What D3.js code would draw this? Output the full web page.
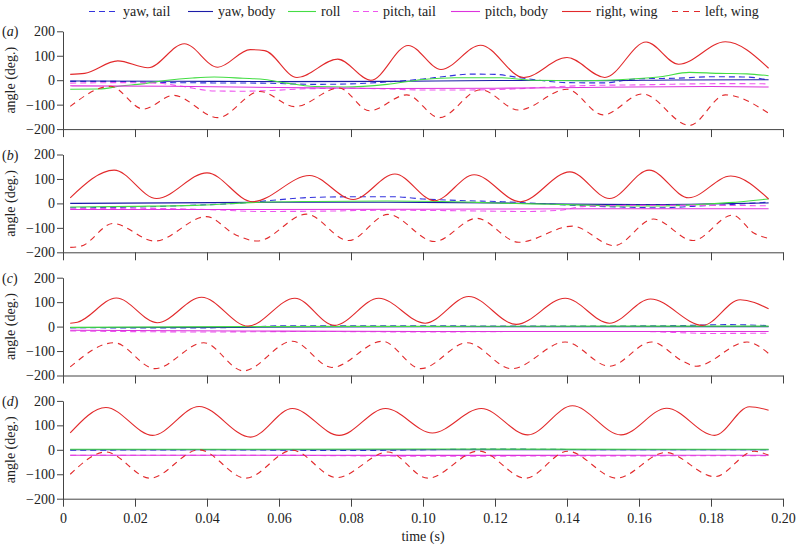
<!DOCTYPE html>
<html><head><meta charset="utf-8">
<script src="https://cdn.jsdelivr.net/npm/d3@7"></script>
<style>
html,body{margin:0;padding:0;background:#fff;}
#c, #c text { font-family: 'Liberation Serif', 'Times New Roman', Times, 'DejaVu Serif', serif !important; font-size: 14px; }
</style></head>
<body><svg id="c" width="796" height="546"></svg>
<script>
// ---- data ----
const panelLabels = ["a","b","c","d"];
const seriesNames = ["yaw, tail","yaw, body","roll","pitch, tail","pitch, body","right, wing","left, wing"];
const xTicks = [0,0.02,0.04,0.06,0.08,0.10,0.12,0.14,0.16,0.18,0.20];
const yTicks = [-200,-100,0,100,200];

// panel (a)
const yawTailA = [[0.002,-5],[0.015,-5],[0.025,-9],[0.04,-11],[0.055,-12],[0.07,-17],[0.08,-15],[0.09,-7],[0.1,5],[0.106,15],[0.113,25],[0.12,24],[0.126,12],[0.132,0],[0.14,-10],[0.15,-11],[0.16,6],[0.17,8],[0.18,14],[0.19,13],[0.196,0]];
const yawBodyA = [[0.002,-3],[0.03,-4],[0.06,-6],[0.09,-5],[0.12,-1],[0.15,-2],[0.17,1],[0.196,2]];
const rollA = [[0.002,-37],[0.01,-36],[0.016,-24],[0.022,-15],[0.029,0],[0.036,9],[0.042,13],[0.05,8],[0.056,3],[0.062,-12],[0.07,-26],[0.078,-28],[0.09,-17],[0.1,3],[0.109,10],[0.122,10],[0.13,0],[0.145,-2],[0.158,5],[0.166,14],[0.174,32],[0.182,28],[0.19,26],[0.196,18]];
const pitchTailA = [[0.002,-12],[0.015,-10],[0.026,-12],[0.033,-25],[0.042,-44],[0.05,-45],[0.058,-42],[0.068,-35],[0.08,-33],[0.09,-36],[0.1,-40],[0.11,-40],[0.125,-36],[0.135,-28],[0.145,-22],[0.16,-19],[0.175,-15],[0.186,-14],[0.196,-15]];
const pitchBodyA = [[0.002,-23],[0.03,-25],[0.06,-30],[0.09,-34],[0.12,-33],[0.15,-29],[0.18,-26],[0.196,-28]];
const rightWingA = [[0.002,24],[0.006,28],[0.0152,79],[0.0236,51],[0.0337,149],[0.043,53],[0.052,125],[0.056,121],[0.065,11],[0.0763,86],[0.0855,0],[0.0959,142],[0.105,44],[0.116,143],[0.128,11],[0.14,93],[0.1505,11],[0.162,156],[0.171,65],[0.184,157],[0.196,49]];
const leftWingA = [[0.002,-107],[0.0132,-25],[0.0223,-118],[0.0307,-62],[0.043,-153],[0.0547,-46],[0.0644,-108],[0.0767,-32],[0.0851,-125],[0.0955,-60],[0.1045,-153],[0.116,-39],[0.1266,-122],[0.14,-37],[0.15,-142],[0.161,-56],[0.174,-185],[0.184,-60],[0.196,-135]];

// panel (b)
const yawTailB = [[0.002,-18],[0.02,-15],[0.035,-8],[0.05,2],[0.06,15],[0.068,24],[0.08,27],[0.092,27],[0.1,18],[0.11,12],[0.122,7],[0.132,0],[0.142,-8],[0.155,-15],[0.166,-18],[0.175,-12],[0.185,-5],[0.196,5]];
const yawBodyB = [[0.002,0],[0.03,2],[0.06,5],[0.09,5],[0.12,2],[0.14,-3],[0.16,-5],[0.18,-2],[0.196,2]];
const rollB = [[0.002,-15],[0.02,-12],[0.038,-7],[0.055,5],[0.07,8],[0.09,10],[0.105,8],[0.115,4],[0.13,-2],[0.14,-5],[0.155,-10],[0.165,-10],[0.175,-6],[0.185,3],[0.196,18]];
const pitchTailB = [[0.002,-22],[0.02,-20],[0.04,-25],[0.055,-33],[0.07,-32],[0.09,-28],[0.11,-30],[0.128,-33],[0.138,-28],[0.145,-12],[0.16,-8],[0.18,-8],[0.196,-10]];
const pitchBodyB = [[0.002,-25],[0.05,-25],[0.1,-24],[0.15,-22],[0.196,-22]];
const rightWingB = [[0.002,23],[0.0142,136],[0.026,20],[0.04,125],[0.0527,7],[0.0685,114],[0.0806,16],[0.0922,120],[0.1032,11],[0.1142,117],[0.127,7],[0.1408,129],[0.1518,20],[0.1628,136],[0.1738,23],[0.1855,112],[0.196,18]];
const leftWingB = [[0.002,-180],[0.005,-175],[0.0139,-82],[0.0255,-154],[0.0398,-54],[0.048,-129],[0.054,-154],[0.0676,-44],[0.0793,-152],[0.0903,-45],[0.1032,-156],[0.1149,-61],[0.1266,-159],[0.1415,-93],[0.1531,-173],[0.164,-64],[0.175,-152],[0.186,-48],[0.192,-122],[0.196,-143]];

// panel (c)
const yawTailC = [[0.002,-4],[0.03,-6],[0.05,-3],[0.06,3],[0.1,3],[0.14,2],[0.17,4],[0.185,8],[0.196,4]];
const yawBodyC = [[0.002,-4],[0.05,-3],[0.1,0],[0.15,0],[0.196,0]];
const rollC = [[0.002,-3],[0.05,0],[0.1,1],[0.15,2],[0.196,2]];
const pitchTailC = [[0.002,-18],[0.04,-22],[0.07,-20],[0.1,-22],[0.13,-20],[0.16,-20],[0.18,-28],[0.196,-27]];
const pitchBodyC = [[0.002,-15],[0.05,-18],[0.1,-20],[0.15,-20],[0.196,-20]];
const rightWingC = [[0.002,14],[0.004,18],[0.0148,117],[0.0262,16],[0.0385,120],[0.0514,2],[0.0644,116],[0.0754,5],[0.0877,116],[0.1006,14],[0.1127,123],[0.1259,9],[0.1395,116],[0.1518,14],[0.1632,113],[0.1777,5],[0.1881,110],[0.196,73]];
const leftWingC = [[0.002,-165],[0.0142,-66],[0.0255,-172],[0.0391,-66],[0.0501,-181],[0.0637,-60],[0.0747,-167],[0.0887,-60],[0.0994,-172],[0.1123,-66],[0.1246,-172],[0.1395,-63],[0.1518,-162],[0.1635,-63],[0.1725,-144],[0.1758,-162],[0.19,-63],[0.196,-110]];

// panel (d)
const yawTailD = [[0.002,-2],[0.04,0],[0.08,-3],[0.12,3],[0.16,0],[0.196,0]];
const yawBodyD = [[0.002,0],[0.1,0],[0.196,0]];
const rollD = [[0.002,2],[0.1,3],[0.196,2]];
const pitchTailD = [[0.002,-22],[0.05,-22],[0.1,-26],[0.15,-25],[0.196,-24]];
const pitchBodyD = [[0.002,-22],[0.1,-23],[0.196,-22]];
const rightWingD = [[0.002,69],[0.0119,173],[0.0249,59],[0.0378,177],[0.0521,52],[0.0637,169],[0.0767,59],[0.0896,169],[0.1026,69],[0.1162,169],[0.1291,61],[0.1415,180],[0.155,61],[0.1677,170],[0.181,59],[0.1907,176],[0.196,162]];
const leftWingD = [[0.002,-100],[0.0119,-9],[0.0242,-116],[0.0378,0],[0.0508,-116],[0.0637,-2],[0.076,-114],[0.0903,-9],[0.1013,-116],[0.1155,-5],[0.1285,-116],[0.1402,-6],[0.1538,-116],[0.1674,-11],[0.181,-110],[0.192,-6],[0.196,-22]];

const panels = [
  [yawTailA,yawBodyA,rollA,pitchTailA,pitchBodyA,rightWingA,leftWingA],
  [yawTailB,yawBodyB,rollB,pitchTailB,pitchBodyB,rightWingB,leftWingB],
  [yawTailC,yawBodyC,rollC,pitchTailC,pitchBodyC,rightWingC,leftWingC],
  [yawTailD,yawBodyD,rollD,pitchTailD,pitchBodyD,rightWingD,leftWingD]
];

// ---- styles ----
const colors = ["#3333dd","#1c1ca8","#44dd44","#ee55ee","#dd33dd","#e2292b","#e2292b"];
const dashes = ["6,4",null,null,"6,4",null,null,"6,5"];

const svg = d3.select("#c");
const left = 63, right = 783, top0 = 31.3, step = 123.2, ph = 97.8;
const x = d3.scaleLinear().domain([0,0.2]).range([left,right]);
const axisColor = "#444";

panels.forEach((series,i)=>{
  const top = top0 + i*step;
  const y = d3.scaleLinear().domain([-200,200]).range([top+ph, top]);
  const g = svg.append("g");
  // y axis
  const ya = g.append("g").attr("transform",`translate(${left},0)`)
    .call(d3.axisLeft(y).tickValues(yTicks).tickSize(6).tickSizeOuter(0).tickPadding(2)
      .tickFormat(d=> d<0 ? "\u2212"+Math.abs(d) : d));
  ya.attr("font-family",null).attr("font-size",null);
  ya.select(".domain").attr("stroke",axisColor);
  ya.selectAll(".tick line").attr("stroke",axisColor);
  ya.selectAll("text").attr("fill","#222");
  // x axis
  const xa = g.append("g").attr("transform",`translate(0,${top+ph})`)
    .call(d3.axisBottom(x).tickValues(xTicks).tickSize(8).tickSizeOuter(0).tickPadding(6)
      .tickFormat(d=> i===3 ? (d===0 ? "0" : d3.format(".2f")(d)) : ""));
  xa.attr("font-family",null).attr("font-size",null);
  xa.select(".domain").attr("stroke",axisColor);
  xa.selectAll(".tick line").attr("stroke",axisColor);
  xa.selectAll("text").attr("fill","#222");
  // y label
  g.append("text").attr("transform",`translate(15,${top+ph/2}) rotate(-90)`)
    .attr("text-anchor","middle").attr("fill","#222").text("angle (deg.)");
  // panel label
  const pl = g.append("text").attr("x",2).attr("y",top+5).attr("fill","#222");
  pl.append("tspan").text("(");
  pl.append("tspan").attr("font-style","italic").text(panelLabels[i]);
  pl.append("tspan").text(")");
  // lines
  const line = d3.line().x(d=>x(d[0])).y(d=>y(d[1])).curve(d3.curveMonotoneX);
  series.forEach((s,k)=>{
    g.append("path").datum(s).attr("d",line).attr("fill","none")
      .attr("stroke",colors[k]).attr("stroke-width",1.1)
      .attr("stroke-dasharray",dashes[k]);
  });
});

// x label
svg.append("text").attr("x",(left+right)/2).attr("y",541).attr("text-anchor","middle")
  .attr("fill","#222").text("time (s)");

// legend
const legendX = [89,188,288,353,451,562,672];
const legendW = [29,25,28,25,29,29,28];
const lg = svg.append("g");
seriesNames.forEach((n,k)=>{
  lg.append("line").attr("x1",legendX[k]).attr("x2",legendX[k]+legendW[k]).attr("y1",11.5).attr("y2",11.5)
    .attr("stroke",colors[k]).attr("stroke-width",1.1).attr("stroke-dasharray",dashes[k]);
  lg.append("text").attr("x",legendX[k]+legendW[k]+5).attr("y",16).attr("fill","#222").text(n);
});
</script></body></html>
